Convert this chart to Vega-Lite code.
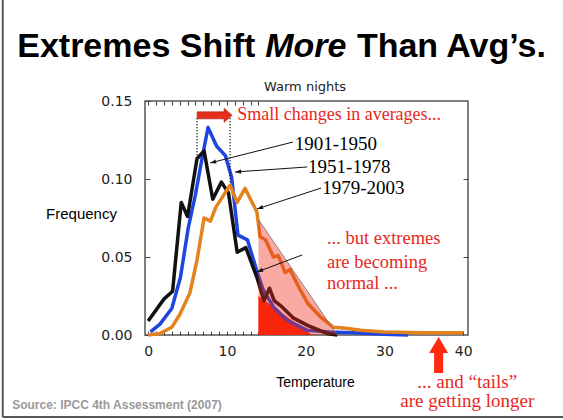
{
  "$schema": "https://vega.github.io/schema/vega-lite/v6.json",
  "autosize": "none",
  "width": 323,
  "height": 234,
  "padding": {"left": 145, "top": 101, "right": 95, "bottom": 85},
  "background": "white",
  "data": {"values": [{}]},
  "config": {
    "view": {"stroke": "#555", "strokeWidth": 1.5},
    "axis": {"grid": false, "domain": false, "labelFont": "DejaVu Sans", "labelFontSize": 13, "labelColor": "#222", "tickColor": "#444"}
  },
  "datasets": {
    "curves": [
      {"period": "1951-1978", "t": 0.3, "f": 0.002},
      {"period": "1951-1978", "t": 1.5, "f": 0.007},
      {"period": "1951-1978", "t": 3.0, "f": 0.017},
      {"period": "1951-1978", "t": 4.1, "f": 0.037},
      {"period": "1951-1978", "t": 5.1, "f": 0.069},
      {"period": "1951-1978", "t": 6.0, "f": 0.09},
      {"period": "1951-1978", "t": 6.8, "f": 0.112},
      {"period": "1951-1978", "t": 7.6, "f": 0.133},
      {"period": "1951-1978", "t": 8.7, "f": 0.121},
      {"period": "1951-1978", "t": 9.8, "f": 0.115},
      {"period": "1951-1978", "t": 10.6, "f": 0.101},
      {"period": "1951-1978", "t": 11.4, "f": 0.064},
      {"period": "1951-1978", "t": 12.6, "f": 0.061},
      {"period": "1951-1978", "t": 13.8, "f": 0.041},
      {"period": "1951-1978", "t": 14.6, "f": 0.029},
      {"period": "1951-1978", "t": 15.9, "f": 0.018},
      {"period": "1951-1978", "t": 17.6, "f": 0.0096},
      {"period": "1951-1978", "t": 20.2, "f": 0.003},
      {"period": "1951-1978", "t": 23.0, "f": 0.002},
      {"period": "1951-1978", "t": 26.0, "f": 0.0015},
      {"period": "1951-1978", "t": 30.0, "f": 0.0005},
      {"period": "1951-1978", "t": 33.0, "f": 0.0},
      {"period": "1901-1950", "t": 0.0, "f": 0.009},
      {"period": "1901-1950", "t": 2.0, "f": 0.023},
      {"period": "1901-1950", "t": 3.1, "f": 0.028},
      {"period": "1901-1950", "t": 4.2, "f": 0.085},
      {"period": "1901-1950", "t": 5.0, "f": 0.076},
      {"period": "1901-1950", "t": 6.2, "f": 0.113},
      {"period": "1901-1950", "t": 7.1, "f": 0.118},
      {"period": "1901-1950", "t": 8.2, "f": 0.087},
      {"period": "1901-1950", "t": 9.3, "f": 0.098},
      {"period": "1901-1950", "t": 10.2, "f": 0.091},
      {"period": "1901-1950", "t": 11.3, "f": 0.053},
      {"period": "1901-1950", "t": 12.4, "f": 0.056},
      {"period": "1901-1950", "t": 13.8, "f": 0.037},
      {"period": "1901-1950", "t": 14.7, "f": 0.022},
      {"period": "1901-1950", "t": 15.4, "f": 0.03},
      {"period": "1901-1950", "t": 16.0, "f": 0.022},
      {"period": "1901-1950", "t": 17.0, "f": 0.018},
      {"period": "1901-1950", "t": 18.4, "f": 0.011},
      {"period": "1901-1950", "t": 20.3, "f": 0.006},
      {"period": "1901-1950", "t": 22.7, "f": 0.001},
      {"period": "1901-1950", "t": 24.0, "f": 0.0},
      {"period": "1979-2003", "t": 0.0, "f": 0.0},
      {"period": "1979-2003", "t": 1.5, "f": 0.001},
      {"period": "1979-2003", "t": 3.0, "f": 0.005},
      {"period": "1979-2003", "t": 4.0, "f": 0.013},
      {"period": "1979-2003", "t": 5.3, "f": 0.027},
      {"period": "1979-2003", "t": 6.2, "f": 0.048},
      {"period": "1979-2003", "t": 7.1, "f": 0.075},
      {"period": "1979-2003", "t": 7.9, "f": 0.073},
      {"period": "1979-2003", "t": 8.6, "f": 0.082},
      {"period": "1979-2003", "t": 9.5, "f": 0.089},
      {"period": "1979-2003", "t": 10.4, "f": 0.096},
      {"period": "1979-2003", "t": 11.3, "f": 0.085},
      {"period": "1979-2003", "t": 12.3, "f": 0.094},
      {"period": "1979-2003", "t": 13.8, "f": 0.079},
      {"period": "1979-2003", "t": 14.2, "f": 0.063},
      {"period": "1979-2003", "t": 14.9, "f": 0.061},
      {"period": "1979-2003", "t": 15.9, "f": 0.05},
      {"period": "1979-2003", "t": 16.5, "f": 0.051},
      {"period": "1979-2003", "t": 17.4, "f": 0.04},
      {"period": "1979-2003", "t": 18.0, "f": 0.042},
      {"period": "1979-2003", "t": 19.3, "f": 0.029},
      {"period": "1979-2003", "t": 20.3, "f": 0.02},
      {"period": "1979-2003", "t": 21.8, "f": 0.012},
      {"period": "1979-2003", "t": 23.5, "f": 0.005},
      {"period": "1979-2003", "t": 24.8, "f": 0.0045},
      {"period": "1979-2003", "t": 27.0, "f": 0.003},
      {"period": "1979-2003", "t": 30.0, "f": 0.002},
      {"period": "1979-2003", "t": 35.0, "f": 0.0015},
      {"period": "1979-2003", "t": 40.0, "f": 0.0015}
    ]
  },
  "layer": [
    {
      "data": {"values": [{"t": 14, "f": 0.025}, {"t": 20.8, "f": 0}]},
      "mark": {"type": "area", "color": "#ff2200", "opacity": 1},
      "encoding": {
        "x": {"field": "t", "type": "quantitative", "scale": {"domain": [-0.4, 40.6], "nice": false, "zero": false},
          "axis": {"orient": "bottom", "values": [0,1,2,3,4,5,6,7,8,9,10,11,12,13,14,20,30,40], "labelExpr": "datum.value % 10 == 0 ? datum.label : ''", "tickSize": -4, "labelPadding": 13, "labelFontSize": 14,
            "title": "Temperature", "titleFont": "Liberation Sans", "titleFontSize": 14, "titleFontWeight": "normal", "titleColor": "#000", "titleX": 170, "titleY": 51, "titleAlign": "center", "titleBaseline": "alphabetic"}},
        "y": {"field": "f", "type": "quantitative", "scale": {"domain": [0, 0.15], "nice": false, "zero": false},
          "axis": {"orient": "left", "values": [0, 0.05, 0.1, 0.15], "format": ".2f", "tickSize": -5, "labelPadding": 18, "labelFontSize": 14,
            "title": "Frequency", "titleFont": "Liberation Sans", "titleFontSize": 15, "titleFontWeight": "normal", "titleColor": "#000", "titleAngle": 0, "titleX": -64, "titleY": 117, "titleAlign": "center", "titleBaseline": "alphabetic"}}
      }
    },
    {
      "data": {"values": [{"t": 0, "f": 0}]},
      "mark": {"type": "point", "opacity": 0},
      "encoding": {
        "x": {"field": "t", "type": "quantitative", "axis": {"orient": "top", "values": [0,1,2,3,4,5,6,7,8,9,10,11,12,13,14], "labels": false, "tickSize": -4, "title": null}},
        "y": {"field": "f", "type": "quantitative", "axis": {"orient": "right", "values": [0.05, 0.1], "labels": false, "tickSize": -5, "title": null}}
      }
    },
    {
      "data": {"name": "curves"},
      "mark": {"type": "line", "strokeWidth": 3.5, "strokeJoin": "round"},
      "encoding": {
        "x": {"field": "t", "type": "quantitative", "axis": null},
        "y": {"field": "f", "type": "quantitative", "axis": null},
        "color": {"field": "period", "type": "nominal", "legend": null,
          "scale": {"domain": ["1951-1978", "1901-1950", "1979-2003"], "range": ["#1f45e0", "#111111", "#e3821f"]}},
        "order": {"field": "t", "type": "quantitative"}
      }
    },
    {
      "data": {"values": [{"t": 14, "f": 0.074}, {"t": 24, "f": 0}]},
      "mark": {"type": "area", "color": "#ee2a1a", "opacity": 0.4},
      "encoding": {
        "x": {"field": "t", "type": "quantitative", "axis": null},
        "y": {"field": "f", "type": "quantitative", "axis": null}
      }
    },
    {
      "mark": {"type": "rule", "color": "#7a6a6a", "strokeWidth": 0.8},
      "encoding": {"x": {"datum": 14, "axis": null}, "y": {"datum": 0.074, "axis": null}, "x2": {"datum": 24}, "y2": {"datum": 0}}
    },
    {
      "data": {"values": [{"t": 6.2, "top": 0.139, "bottom": 0.114}, {"t": 10.4, "top": 0.139, "bottom": 0.097}]},
      "mark": {"type": "rule", "color": "#111", "strokeWidth": 1.5, "strokeDash": [1, 2]},
      "encoding": {"x": {"field": "t", "type": "quantitative", "axis": null}, "y": {"field": "top", "type": "quantitative", "axis": null}, "y2": {"field": "bottom"}}
    },
    {
      "data": {"values": [
        {"x1": 18.4, "y1": 0.1237, "x2": 7.87, "y2": 0.1103},
        {"x1": 20.18, "y1": 0.1077, "x2": 11.04, "y2": 0.1045},
        {"x1": 21.95, "y1": 0.0942, "x2": 13.83, "y2": 0.0808},
        {"x1": 19.54, "y1": 0.0513, "x2": 13.83, "y2": 0.0404}
      ]},
      "mark": {"type": "rule", "color": "#111", "strokeWidth": 1},
      "encoding": {"x": {"field": "x1", "type": "quantitative", "axis": null}, "y": {"field": "y1", "type": "quantitative", "axis": null}, "x2": {"field": "x2"}, "y2": {"field": "y2"}}
    },
    {
      "mark": {"type": "point", "shape": "M0,0L-2,-0.7L-2,0.7Z", "size": 36, "filled": true, "color": "#111", "opacity": 1, "angle": 166},
      "encoding": {"x": {"datum": 7.87, "axis": null}, "y": {"datum": 0.1103, "axis": null}}
    },
    {
      "mark": {"type": "point", "shape": "M0,0L-2,-0.7L-2,0.7Z", "size": 36, "filled": true, "color": "#111", "opacity": 1, "angle": 176},
      "encoding": {"x": {"datum": 11.04, "axis": null}, "y": {"datum": 0.1045, "axis": null}}
    },
    {
      "mark": {"type": "point", "shape": "M0,0L-2,-0.7L-2,0.7Z", "size": 36, "filled": true, "color": "#111", "opacity": 1, "angle": 162},
      "encoding": {"x": {"datum": 13.83, "axis": null}, "y": {"datum": 0.0808, "axis": null}}
    },
    {
      "mark": {"type": "point", "shape": "M0,0L-2,-0.7L-2,0.7Z", "size": 36, "filled": true, "color": "#111", "opacity": 1, "angle": 159},
      "encoding": {"x": {"datum": 13.83, "axis": null}, "y": {"datum": 0.0404, "axis": null}}
    },
    {
      "mark": {"type": "point", "shape": "M-1,-0.2L0.54,-0.2L0.54,-0.4L1,0L0.54,0.4L0.54,0.2L-1,0.2Z", "size": 1225, "filled": true, "color": "#e2301a", "stroke": "#b01a0a", "strokeWidth": 0.6, "opacity": 1},
      "encoding": {"x": {"datum": 8.44, "axis": null}, "y": {"datum": 0.1408, "axis": null}}
    },
    {
      "mark": {"type": "point", "shape": "M0,-1L0.53,-0.11L0.25,-0.11L0.25,1L-0.25,1L-0.25,-0.11L-0.53,-0.11Z", "size": 1296, "filled": true, "color": "#ff2a10", "opacity": 1},
      "encoding": {"x": {"datum": 36.87, "axis": null}, "y": {"datum": -0.0128, "axis": null}}
    },
    {
      "mark": {"type": "text", "font": "DejaVu Sans", "fontSize": 13, "color": "#222", "align": "center", "baseline": "middle", "text": "Warm nights"},
      "encoding": {"x": {"datum": 19.92, "axis": null}, "y": {"datum": 0.159, "axis": null}}
    },
    {
      "data": {"values": [{"x": 11.3, "y": 0.1408, "label": "Small changes in averages..."}]},
      "mark": {"type": "text", "font": "Liberation Serif", "fontSize": 18, "color": "#e8281e", "align": "left", "baseline": "middle"},
      "encoding": {"x": {"field": "x", "type": "quantitative", "axis": null}, "y": {"field": "y", "type": "quantitative", "axis": null}, "text": {"field": "label"}}
    },
    {
      "data": {"values": [
        {"x": 18.6, "y": 0.1224, "label": "1901-1950"},
        {"x": 20.3, "y": 0.1077, "label": "1951-1978"},
        {"x": 22.1, "y": 0.0942, "label": "1979-2003"}
      ]},
      "mark": {"type": "text", "font": "Liberation Serif", "fontSize": 19, "color": "#000", "align": "left", "baseline": "middle"},
      "encoding": {"x": {"field": "x", "type": "quantitative", "axis": null}, "y": {"field": "y", "type": "quantitative", "axis": null}, "text": {"field": "label"}}
    },
    {
      "data": {"values": [
        {"x": 22.7, "y": 0.0622, "label": "... but extremes"},
        {"x": 22.7, "y": 0.0468, "label": "are becoming"},
        {"x": 22.7, "y": 0.0333, "label": "normal ..."}
      ]},
      "mark": {"type": "text", "font": "Liberation Serif", "fontSize": 18.5, "color": "#e8281e", "align": "left", "baseline": "middle"},
      "encoding": {"x": {"field": "x", "type": "quantitative", "axis": null}, "y": {"field": "y", "type": "quantitative", "axis": null}, "text": {"field": "label"}}
    },
    {
      "data": {"values": [
        {"x": 40.5, "y": -0.0301, "label": "... and “tails”"},
        {"x": 40.5, "y": -0.0423, "label": "are getting longer"}
      ]},
      "mark": {"type": "text", "font": "Liberation Serif", "fontSize": 19, "color": "#e8281e", "align": "center", "baseline": "middle"},
      "encoding": {"x": {"field": "x", "type": "quantitative", "axis": null}, "y": {"field": "y", "type": "quantitative", "axis": null}, "text": {"field": "label"}}
    },
    {
      "mark": {"type": "text", "font": "Liberation Sans", "fontSize": 12, "fontWeight": "bold", "color": "#999", "align": "left", "baseline": "middle", "text": "Source: IPCC 4th Assessment (2007)"},
      "encoding": {"x": {"datum": -17.26, "axis": null}, "y": {"datum": -0.0449, "axis": null}}
    },
    {
      "mark": {"type": "text", "font": "Liberation Sans", "fontSize": 34, "fontWeight": "bold", "color": "#000", "align": "left", "baseline": "alphabetic", "text": "Extremes Shift"},
      "encoding": {"x": {"datum": -16.62, "axis": null}, "y": {"datum": 0.1782, "axis": null}}
    },
    {
      "mark": {"type": "text", "font": "Liberation Sans", "fontSize": 34, "fontWeight": "bold", "fontStyle": "italic", "color": "#000", "align": "left", "baseline": "alphabetic", "text": "More"},
      "encoding": {"x": {"datum": 14.85, "axis": null}, "y": {"datum": 0.1782, "axis": null}}
    },
    {
      "mark": {"type": "text", "font": "Liberation Sans", "fontSize": 34, "fontWeight": "bold", "color": "#000", "align": "left", "baseline": "alphabetic", "text": "Than Avg’s."},
      "encoding": {"x": {"datum": 26.5, "axis": null}, "y": {"datum": 0.1782, "axis": null}}
    },
    {
      "mark": {"type": "rule", "color": "#555", "strokeWidth": 2},
      "encoding": {"x": {"datum": -18.46, "axis": null}, "y": {"datum": 0.2147, "axis": null}, "y2": {"datum": -0.0526}}
    },
    {
      "mark": {"type": "rule", "color": "#555", "strokeWidth": 2},
      "encoding": {"x": {"datum": -18.46, "axis": null}, "x2": {"datum": 52.7}, "y": {"datum": -0.0526, "axis": null}}
    }
  ]
}
